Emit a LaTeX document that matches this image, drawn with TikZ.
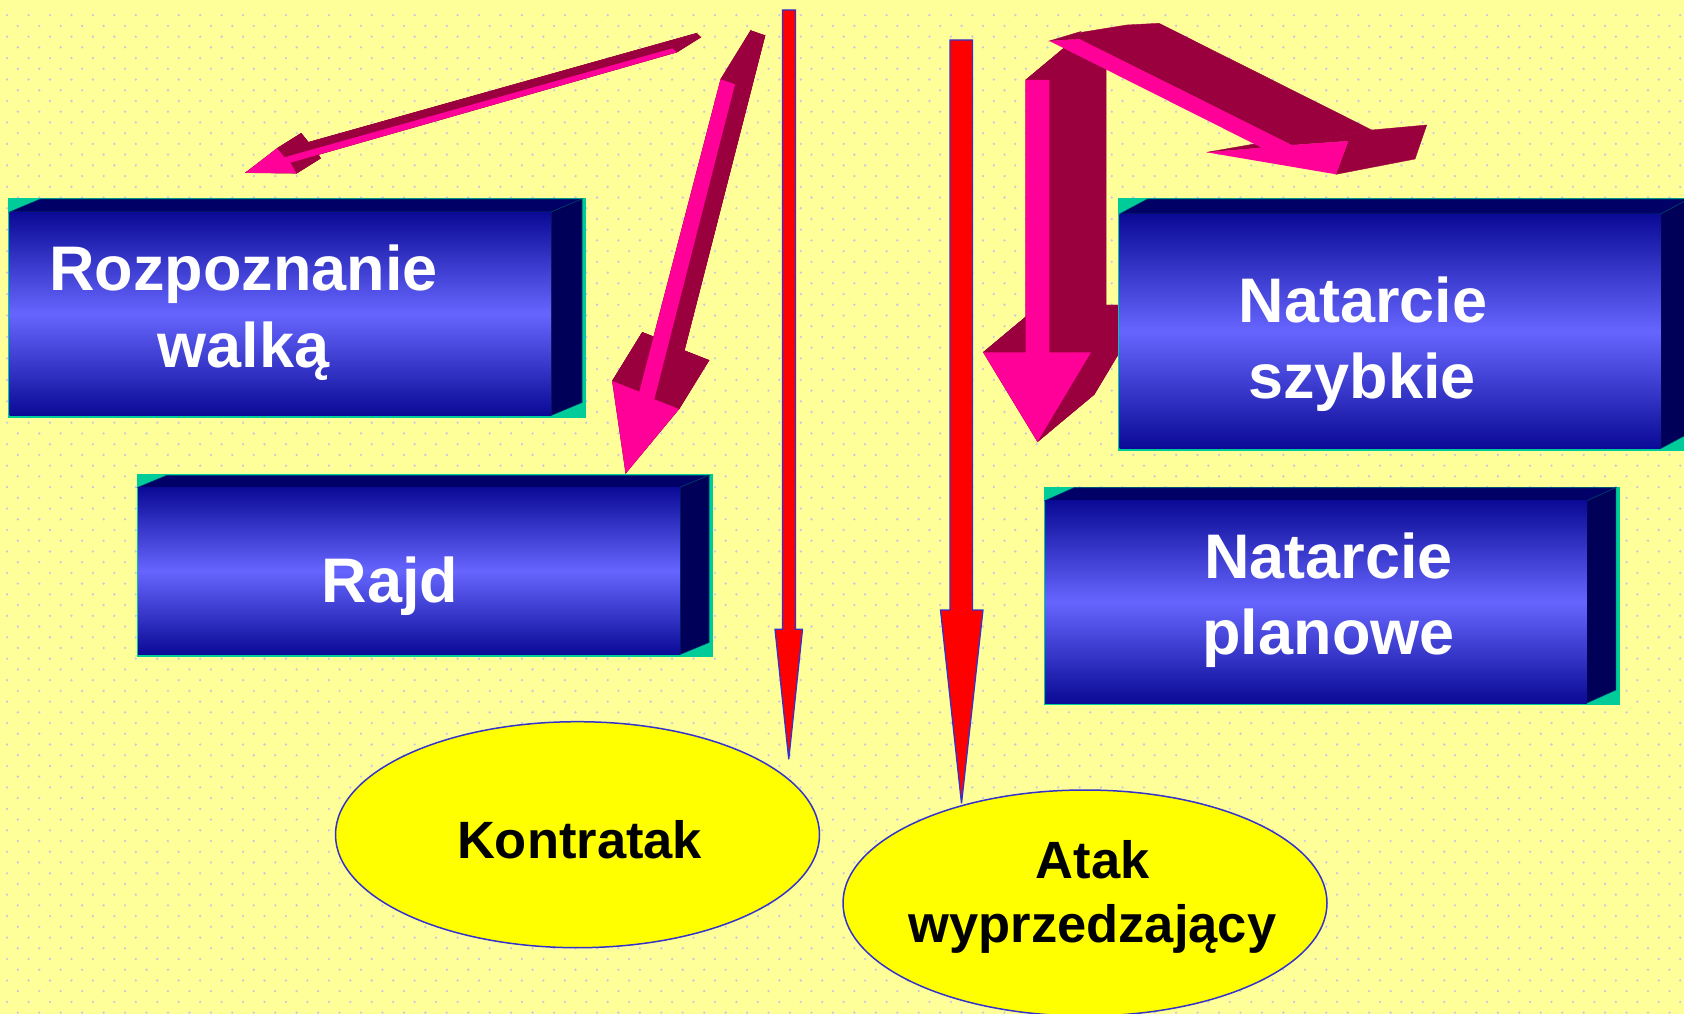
\documentclass[tikz,border=0pt]{standalone}
\usepackage{fontspec}
\setmainfont{Liberation Sans}
\usetikzlibrary{calc,shapes.geometric}
\definecolor{bgy}{RGB}{255,255,153}
\definecolor{dotc}{RGB}{200,202,228}
\definecolor{pinkf}{RGB}{255,0,153}
\definecolor{darkx}{RGB}{153,0,61}
\definecolor{teal3d}{RGB}{0,204,153}
\definecolor{boxtop}{RGB}{0,0,102}
\definecolor{boxside}{RGB}{0,0,88}
\definecolor{boxdark}{RGB}{10,10,150}
\definecolor{boxlight}{RGB}{102,102,255}
\definecolor{boxedge}{RGB}{0,60,110}
\definecolor{redf}{RGB}{255,0,0}
\definecolor{blueo}{RGB}{51,51,204}
\definecolor{ellf}{RGB}{255,255,0}
\newcommand\tdbox[7]{% #1 name, #2 left, #3 top, #4 right, #5 bottom, #6 dx, #7 dy
  \fill[teal3d] (#2-1.5,#3-#7-1) rectangle (#4+#6+4,#5+2);
  \fill[boxtop,draw=boxedge,line width=0.6pt] (#2,#3) -- (#2+#6,#3-#7) -- (#4+#6,#3-#7) -- (#4,#3) -- cycle;
  \fill[boxside,draw=boxedge,line width=0.6pt] (#4,#3) -- (#4+#6,#3-#7) -- (#4+#6,#5-#7) -- (#4,#5) -- cycle;
  \shade[top color=boxdark,bottom color=boxdark,middle color=boxlight] (#2,#3) rectangle (#4,#5);
  \coordinate (#1) at ({(#2+#4)/2},{(#3+#5)/2});
}
\begin{document}
\begin{tikzpicture}[x=1pt,y=-1pt,
  boxtxt/.style={text=white,font=\fontsize{63}{76}\selectfont\bfseries,inner sep=0pt,anchor=base},
  elltxt/.style={text=black,font=\fontsize{52.5}{64}\selectfont\bfseries,inner sep=0pt,anchor=base},
  ellbox/.style={ellipse,draw=blueo,line width=1.5pt,fill=ellf,inner sep=0pt},
  redarrow/.style={fill=redf,draw=blueo,line width=1.3pt,line join=miter,miter limit=3},
  pinkface/.style={fill=pinkf},
  darkface/.style={fill=darkx,draw=darkx,line width=0.4pt}]
\fill[bgy] (0,0) rectangle (1684,1014);
\useasboundingbox (0,0) rectangle (1684,1014);
\clip (0,0) rectangle (1684,1014);
% dotted background
\foreach \j in {0,...,46} {
  \fill[dotc] \foreach \i in {0,...,78} {(7.1+21.45*\i,15.2+21.45*\j) circle[radius=1.3]};
  \fill[dotc] \foreach \i in {0,...,78} {(17.8+21.45*\i,25.9+21.45*\j) circle[radius=1.3]};
}

% boxes on the left
\tdbox{boxA}{9.5}{212}{551}{415.5}{31}{13}
\tdbox{boxB}{138}{487.3}{680}{654.5}{29}{12}

% arrow A (thin, pointing left)
\coordinate (dA) at (24,-15);
\path (672.5,48.3) coordinate (A1) (284.4,157.3) coordinate (A2) (277.2,148.3) coordinate (A3)
      (245.5,172.7) coordinate (A4) (296.5,173.3) coordinate (A5) (290.3,162.7) coordinate (A6)
      (676.6,52.3) coordinate (A7);
\fill[darkface] ($(A1)+(dA)$) -- ($(A2)+(dA)$) -- ($(A3)+(dA)$) -- ($(A4)+(dA)$) -- ($(A5)+(dA)$) -- ($(A6)+(dA)$) -- ($(A7)+(dA)$) -- cycle;
\foreach \p/\q in {A1/A2,A2/A3,A3/A4,A4/A5,A5/A6,A6/A7,A7/A1}
  \fill[darkface] (\p) -- (\q) -- ($(\q)+(dA)$) -- ($(\p)+(dA)$) -- cycle;
\fill[pinkface] (A1) -- (A2) -- (A3) -- (A4) -- (A5) -- (A6) -- (A7) -- cycle;

% arrow B (pointing down-left)
\coordinate (dB) at (30,-48.7);
\path (720.7,79.3) coordinate (B1) (639.3,391.7) coordinate (B2) (612.3,381) coordinate (B3)
      (625.7,473.3) coordinate (B4) (679,409) coordinate (B5) (654.3,399.3) coordinate (B6)
      (735,84.3) coordinate (B7);
\fill[darkface] ($(B1)+(dB)$) -- ($(B2)+(dB)$) -- ($(B3)+(dB)$) -- ($(B4)+(dB)$) -- ($(B5)+(dB)$) -- ($(B6)+(dB)$) -- ($(B7)+(dB)$) -- cycle;
\foreach \p/\q in {B1/B2,B2/B3,B3/B4,B4/B5,B5/B6,B6/B7,B7/B1}
  \fill[darkface] (\p) -- (\q) -- ($(\q)+(dB)$) -- ($(\p)+(dB)$) -- cycle;
\fill[pinkface] (B1) -- (B2) -- (B3) -- (B4) -- (B5) -- (B6) -- (B7) -- cycle;

% arrow C (vertical, pointing down)
\coordinate (dC) at (56.7,-47.3);
\path (1025.7,80) coordinate (C1) (1025.7,352.3) coordinate (C2) (983.3,352.3) coordinate (C3)
      (1037.5,441.7) coordinate (C4) (1091,352.3) coordinate (C5) (1049.3,352.3) coordinate (C6)
      (1049.3,80) coordinate (C7);
\fill[darkface] ($(C1)+(dC)$) -- ($(C2)+(dC)$) -- ($(C3)+(dC)$) -- ($(C4)+(dC)$) -- ($(C5)+(dC)$) -- ($(C6)+(dC)$) -- ($(C7)+(dC)$) -- cycle;
\foreach \p/\q in {C1/C2,C2/C3,C3/C4,C4/C5,C5/C6,C6/C7,C7/C1}
  \fill[darkface] (\p) -- (\q) -- ($(\q)+(dC)$) -- ($(\p)+(dC)$) -- cycle;
\fill[pinkface] (C1) -- (C2) -- (C3) -- (C4) -- (C5) -- (C6) -- (C7) -- cycle;

% arrow D (slanted, pointing down-right)
\fill[darkface] (1049.3,41) -- (1081,31.5) -- (1079.3,39) -- cycle;
\fill[darkface] (1079.3,39) -- (1081.7,32.3) -- (1126.7,25) -- (1159,23.3) -- (1371.7,130) -- (1291.7,145) -- cycle;
\fill[darkface] (1291.7,145) -- (1371.7,130) -- (1426.7,125) -- (1415,159) -- (1336,174.3) -- (1348.3,141) -- cycle;
\fill[darkface] (1206.7,152.3) -- (1258.3,143.3) -- (1261.7,147.7) -- cycle;
\fill[pinkface] (1049.3,41) -- (1079.3,39) -- (1291.7,145) -- (1348.3,141) -- (1336,174.3) -- (1206.7,152.3) -- (1261.7,147.7) -- cycle;

% boxes on the right
\tdbox{boxC}{1119.5}{214}{1660.7}{448.5}{28}{15}
\tdbox{boxD}{1045}{500.7}{1586.8}{703}{29}{13}

% ellipses
\node[ellbox,minimum width=484,minimum height=226] (kontr) at (577.5,834.7) {};
\node[ellbox,minimum width=484,minimum height=226] (atak) at (1085,903) {};

% red arrows
\draw[redarrow] (782.5,10) -- (782.5,629.3) -- (775,629.3) -- (788.75,759.3) -- (802.5,629.3) -- (795.5,629.3) -- (795.5,10) -- cycle;
\draw[redarrow] (950,40) -- (950,610) -- (940.5,610) -- (961.5,803.3) -- (983,610) -- (972.5,610) -- (972.5,40) -- cycle;

% texts
\node[boxtxt] (tA1) at (243.5,290) {Rozpoznanie};
\node[boxtxt] (tA2) at (243.5,367) {walką};
\node[boxtxt] (tB1) at (389.8,602.7) {Rajd};
\node[boxtxt] (tC1) at (1363,322) {Natarcie};
\node[boxtxt] (tC2) at (1362,398) {szybkie};
\node[boxtxt] (tD1) at (1328.5,578.3) {Natarcie};
\node[boxtxt] (tD2) at (1328.5,654.3) {planowe};
\node[elltxt] (tE1) at (579.6,858.3) {Kontratak};
\node[elltxt] (tF1) at (1092.5,878.3) {Atak};
\node[elltxt] (tF2) at (1092.5,942.3) {wyprzedzający};
\end{tikzpicture}
\end{document}
